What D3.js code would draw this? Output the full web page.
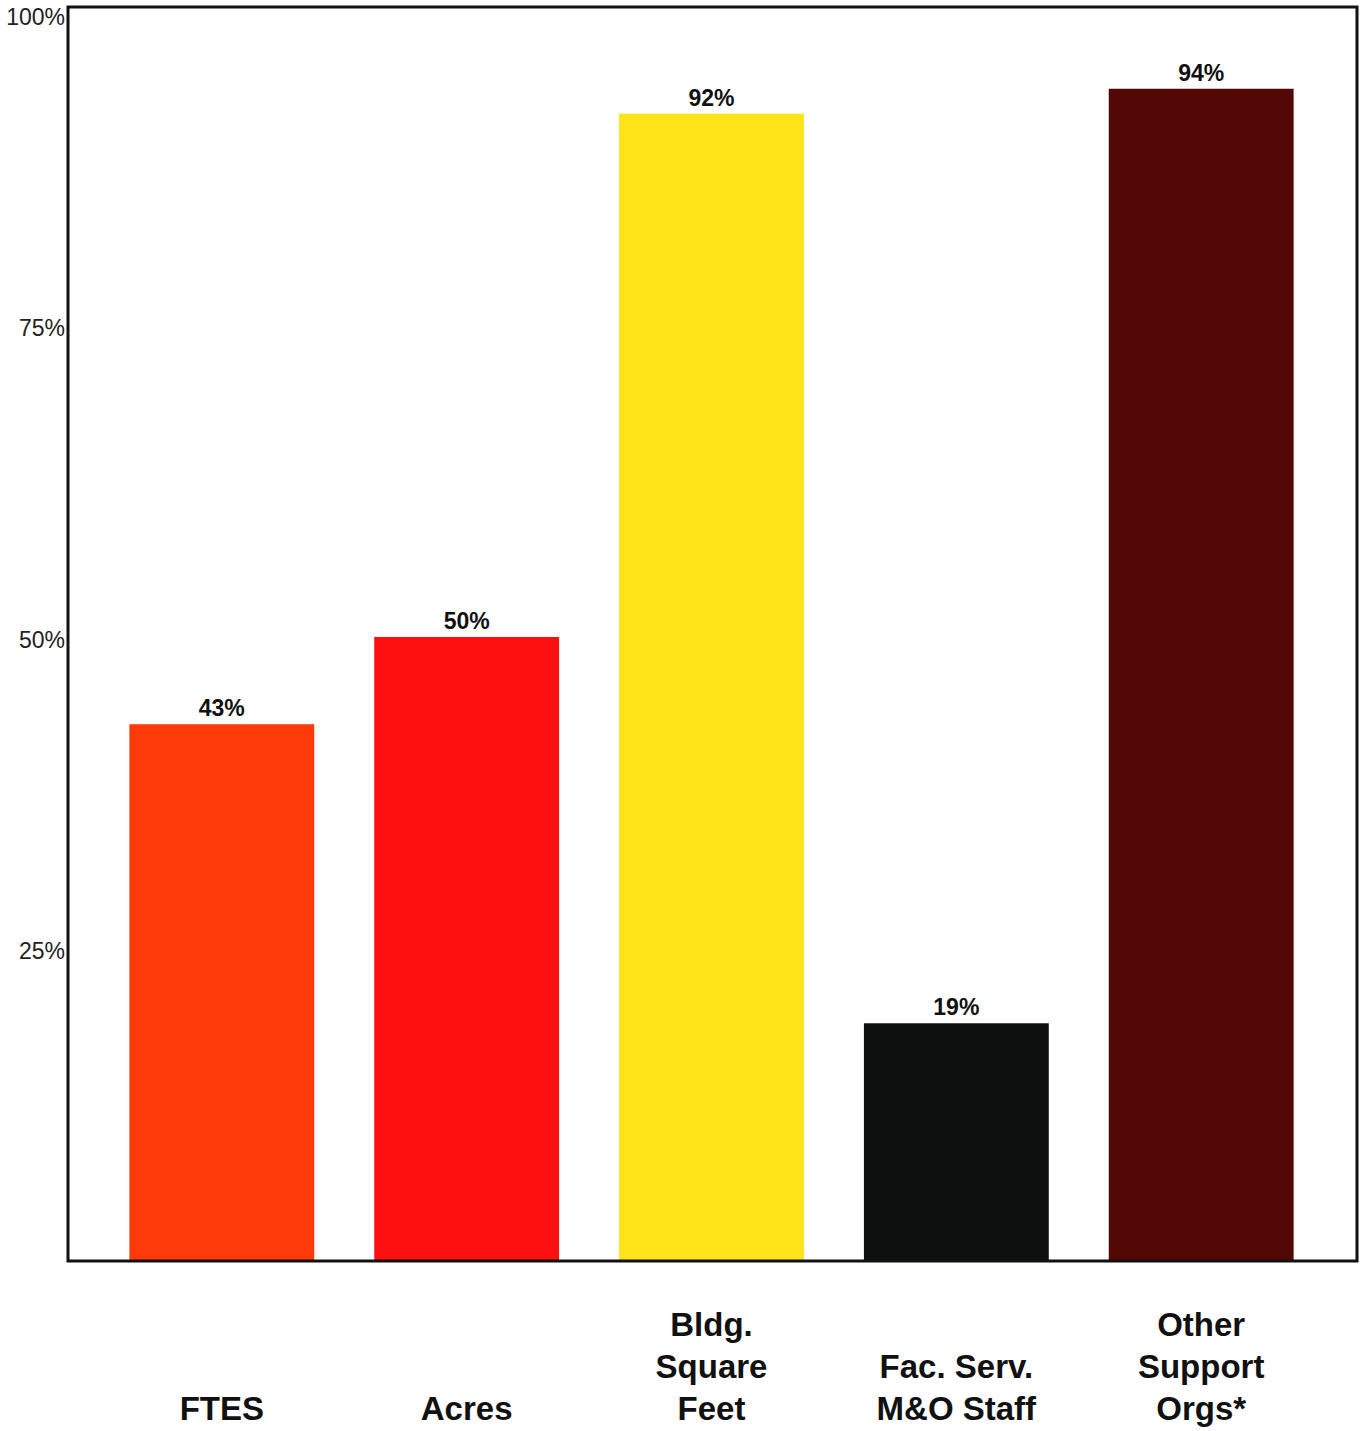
<!DOCTYPE html>
<html>
<head>
<meta charset="utf-8">
<script src="https://cdn.jsdelivr.net/npm/d3@7"></script>
<style>
  html, body { margin: 0; padding: 0; background: #fff; }
  svg { display: block; }
</style>
</head>
<body>
<div id="chart"></div>
<script>
// Share of totals by measure
const categories = ["FTES", "Acres", "Bldg. Square Feet", "Fac. Serv. M&O Staff", "Other Support Orgs*"];
const categoryLines = [["FTES"], ["Acres"], ["Bldg.", "Square", "Feet"], ["Fac. Serv.", "M&O Staff"], ["Other", "Support", "Orgs*"]];
const values = [43, 50, 92, 19, 94];
const valueLabels = ["43%", "50%", "92%", "19%", "94%"];
const barColors = ["#ff3a0a", "#ff1010", "#ffe41a", "#0e1010", "#520805"];
const tickValues = [25, 50, 75, 100];
const tickLabels = ["25%", "50%", "75%", "100%"];

const width = 1365, height = 1431;
const frame = { left: 68, top: 7, right: 1357, bottom: 1261 };

const svg = d3.select("#chart").append("svg")
  .attr("width", width)
  .attr("height", height);

const x = d3.scaleBand()
  .domain(categories)
  .range([100, 1323])
  .paddingInner(0.245)
  .paddingOuter(0.12);

const y = d3.scaleLinear()
  .domain([0, 100])
  .range([frame.bottom - 1, 14]);

// Bars
svg.append("g")
  .selectAll("rect")
  .data(categories)
  .join("rect")
  .attr("x", d => x(d))
  .attr("width", x.bandwidth())
  .attr("y", (d, i) => y(values[i]))
  .attr("height", (d, i) => y(0) - y(values[i]))
  .attr("fill", (d, i) => barColors[i]);

// Value labels above bars
svg.append("g")
  .selectAll("text")
  .data(categories)
  .join("text")
  .attr("x", d => x(d) + x.bandwidth() / 2)
  .attr("y", (d, i) => y(values[i]) - 8)
  .attr("text-anchor", "middle")
  .attr("font-family", "Liberation Sans, Arial, sans-serif")
  .attr("font-weight", "bold")
  .attr("font-size", 23)
  .attr("fill", "#111")
  .text((d, i) => valueLabels[i]);

// Y axis labels (no tick marks)
const yAxis = d3.axisLeft(y)
  .tickValues(tickValues)
  .tickFormat((d, i) => tickLabels[i])
  .tickSize(0)
  .tickPadding(3);

const yg = svg.append("g")
  .attr("transform", `translate(${frame.left},0)`)
  .call(yAxis)
  .attr("font-size", 23)
  .attr("font-family", "Liberation Sans, Arial, sans-serif");
yg.select(".domain").remove();
yg.selectAll("text")
  .attr("fill", "#222")
  .attr("dy", "0.45em");

// Plot frame
svg.append("rect")
  .attr("x", frame.left)
  .attr("y", frame.top)
  .attr("width", frame.right - frame.left)
  .attr("height", frame.bottom - frame.top)
  .attr("fill", "none")
  .attr("stroke", "#111")
  .attr("stroke-width", 3);

// Category labels, bottom-aligned multi-line
const lineGap = 42;
const lastBaseline = 1420;
const cat = svg.append("g")
  .selectAll("text")
  .data(categories)
  .join("text")
  .attr("text-anchor", "middle")
  .attr("font-family", "Liberation Sans, Arial, sans-serif")
  .attr("font-weight", "bold")
  .attr("font-size", 33)
  .attr("fill", "#111");

cat.each(function(d, i) {
  const lines = categoryLines[i];
  const t = d3.select(this);
  lines.forEach((ln, j) => {
    t.append("tspan")
      .attr("x", x(d) + x.bandwidth() / 2)
      .attr("y", lastBaseline - (lines.length - 1 - j) * lineGap)
      .text(ln);
  });
});
</script>
</body>
</html>
